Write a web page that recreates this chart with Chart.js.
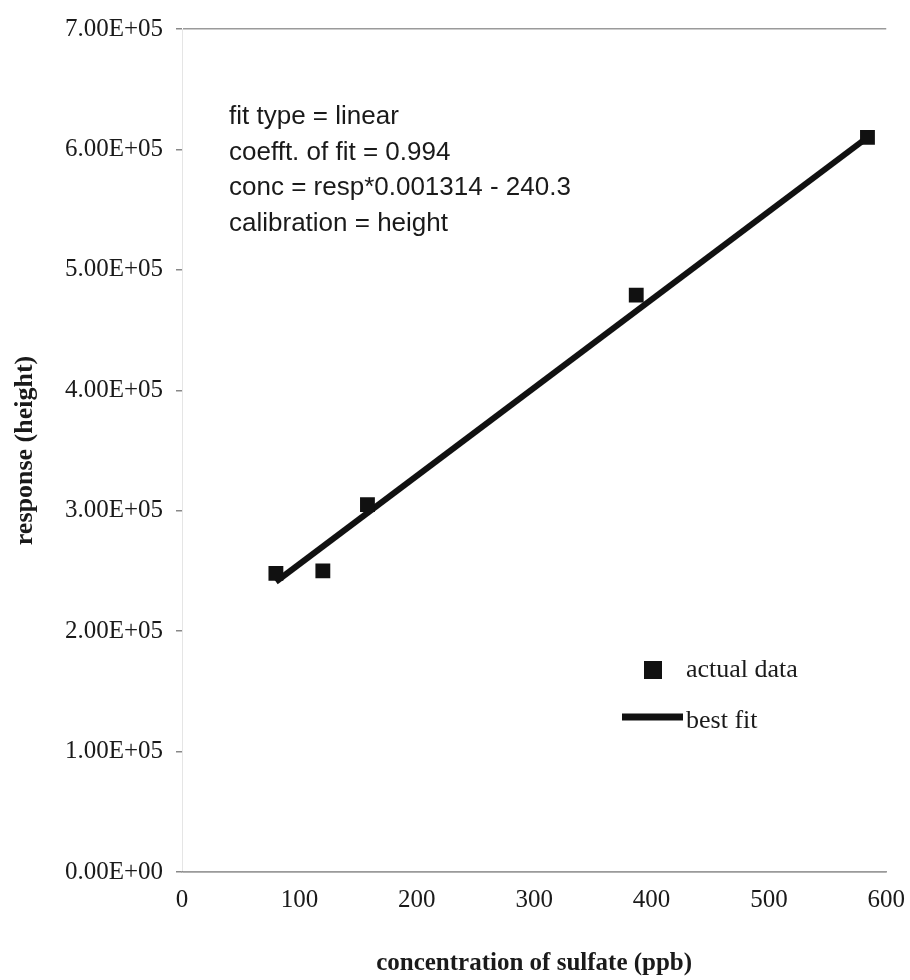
<!DOCTYPE html>
<html>
<head>
<meta charset="utf-8">
<script src="https://cdn.jsdelivr.net/npm/chart.js@4"></script>
<style>
  html, body { margin: 0; padding: 0; background: #fff; }
  #wrap { width: 910px; height: 980px; }
</style>
</head>
<body>
<div id="wrap"><canvas id="calib" width="910" height="980"></canvas></div>
<script>
// sulfate calibration: measured standards and the linear fit
const concentrations = [80, 120, 158, 387, 584];
const responses = [248000, 250000, 305000, 479000, 610000];
const fitConc = [80, 584];
const fitResp = [241000, 610000];
const xTickValues = [0, 100, 200, 300, 400, 500, 600];
const yTickLabels = ['0.00E+00', '1.00E+05', '2.00E+05', '3.00E+05', '4.00E+05', '5.00E+05', '6.00E+05', '7.00E+05'];
const fitNotes = [
    'fit type = linear',
    'coefft. of fit = 0.994',
    'conc = resp*0.001314 - 240.3',
    'calibration = height'
];

const serif = '"Liberation Serif", "Times New Roman", serif';
const sans = '"Liberation Sans", Arial, sans-serif';
const ink = '#1a1a1a';

// fit summary text block inside the plot
const notesPlugin = {
    id: 'notes',
    afterDraw(chart) {
        const ctx = chart.ctx;
        ctx.save();
        ctx.fillStyle = ink;
        ctx.font = '26px ' + sans;
        ctx.textBaseline = 'middle';
        fitNotes.forEach((t, i) => ctx.fillText(t, 229, 117 + i * 35.5));
        ctx.restore();
    }
};

// legend sitting in the lower right of the plot
const keyPlugin = {
    id: 'key',
    afterDraw(chart) {
        const ctx = chart.ctx;
        const [pts, fit] = chart.data.datasets;
        ctx.save();
        ctx.fillStyle = pts.backgroundColor;
        ctx.fillRect(644, 661, 18, 18);
        ctx.strokeStyle = fit.borderColor;
        ctx.lineWidth = 7;
        ctx.beginPath();
        ctx.moveTo(622, 717);
        ctx.lineTo(683, 717);
        ctx.stroke();
        ctx.fillStyle = ink;
        ctx.font = '26px ' + serif;
        ctx.textBaseline = 'middle';
        ctx.fillText(pts.label, 686, 670);
        ctx.fillText(fit.label, 686, 721);
        ctx.restore();
    }
};

new Chart(document.getElementById('calib'), {
    type: 'scatter',
    data: {
        datasets: [{
            label: 'actual data',
            data: concentrations.map((c, i) => ({ x: c, y: responses[i] })),
            pointStyle: 'rect',
            pointRadius: 10.5,
            pointHoverRadius: 10.5,
            backgroundColor: '#111',
            borderWidth: 0,
            order: 1
        }, {
            label: 'best fit',
            data: fitConc.map((c, i) => ({ x: c, y: fitResp[i] })),
            showLine: true,
            borderColor: '#111',
            borderWidth: 6,
            pointRadius: 0,
            order: 2
        }]
    },
    options: {
        responsive: false,
        animation: false,
        devicePixelRatio: 1,
        layout: { padding: { top: 29, right: 15, left: 0, bottom: 0 } },
        plugins: { legend: { display: false }, tooltip: { enabled: false } },
        scales: {
            x: {
                type: 'linear',
                min: 0,
                max: 600,
                afterBuildTicks: s => { s.ticks = xTickValues.map(v => ({ value: v })); },
                afterFit: s => { s.height = 108; },
                grid: { display: false },
                border: { display: true, color: '#9a9a9a', width: 1.5 },
                ticks: { color: ink, padding: 5, font: { family: serif, size: 25 } },
                title: {
                    display: true,
                    text: 'concentration of sulfate (ppb)',
                    color: ink,
                    padding: { top: 0, bottom: 1 },
                    font: { family: serif, size: 25, weight: 'bold' }
                }
            },
            y: {
                type: 'linear',
                min: 0,
                max: 700000,
                afterBuildTicks: s => { s.ticks = yTickLabels.map((_, i) => ({ value: i * 100000 })); },
                afterFit: s => { s.width = 182; },
                grid: {
                    color: c => (c.tick && (c.tick.value === 0 || c.tick.value === 700000)) ? '#9a9a9a' : 'rgba(0,0,0,0)',
                    lineWidth: 1.5,
                    drawTicks: true,
                    tickLength: 6,
                    tickColor: '#888'
                },
                border: { display: true, color: 'rgba(0,0,0,0.1)', width: 1 },
                ticks: {
                    color: ink,
                    padding: 13,
                    font: { family: serif, size: 25 },
                    callback: (v, i) => yTickLabels[i]
                },
                title: {
                    display: true,
                    text: 'response (height)',
                    color: ink,
                    padding: { top: 10, bottom: 0 },
                    font: { family: serif, size: 26, weight: 'bold' }
                }
            }
        }
    },
    plugins: [notesPlugin, keyPlugin]
});
</script>
</body>
</html>
